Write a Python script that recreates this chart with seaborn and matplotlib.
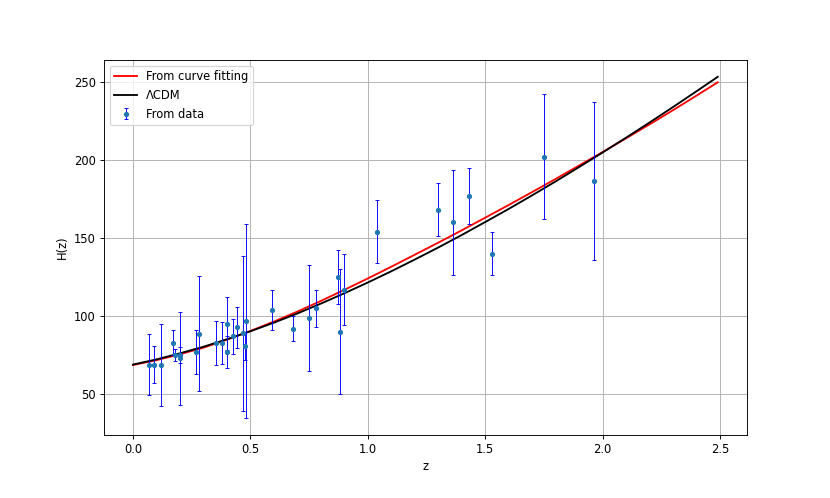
import matplotlib
matplotlib.use("Agg")
import matplotlib.pyplot as plt
import seaborn as sns
import numpy as np

# Dados observacionais H(z)
z_obs = [0.07, 0.09, 0.12, 0.17, 0.179, 0.199, 0.2, 0.27, 0.28, 0.352, 0.38, 0.4,
         0.4004, 0.425, 0.445, 0.47, 0.4783, 0.48, 0.593, 0.68, 0.75, 0.781, 0.875,
         0.88, 0.9, 1.037, 1.3, 1.363, 1.43, 1.53, 1.75, 1.965]
h_obs = [69, 69, 68.6, 83, 75, 75, 72.9, 77, 88.8, 83, 83, 95,
         77, 87.1, 92.8, 89, 80.9, 97, 104, 92, 98.8, 105, 125,
         90, 117, 154, 168, 160, 177, 140, 202, 186.5]
h_err = [19.6, 12, 26.2, 8, 4, 5, 29.6, 14, 36.6, 14, 13.5, 17,
         10.2, 11.2, 12.9, 49.6, 9, 62, 13, 8, 33.6, 12, 17,
         40, 23, 20, 17, 33.6, 18, 14, 40, 50.4]

# Curvas
z_curve = [0.0, 0.1, 0.2, 0.3, 0.4, 0.5, 0.6, 0.7, 0.8, 0.9, 1.0, 1.1, 1.2,
           1.3, 1.4, 1.5, 1.6, 1.7, 1.8, 1.9, 2.0, 2.1, 2.2, 2.3, 2.4, 2.49]
h_fit = [68.7, 71.8, 75.6, 79.8, 84.9, 90.5, 96.5, 102.9, 109.7, 116.8, 124.1,
         131.6, 139.3, 147.0, 154.9, 163.0, 171.1, 179.4, 187.8, 196.4, 205.0,
         213.8, 222.7, 231.8, 241.1, 249.6]
h_lcdm = [69.0, 72.3, 76.2, 80.4, 85.2, 90.3, 95.8, 101.7, 108.0, 114.6, 121.5,
          128.7, 136.2, 143.9, 151.9, 160.2, 168.6, 177.3, 186.2, 195.4, 204.7,
          214.2, 223.9, 233.8, 243.9, 253.1]

fig, ax = plt.subplots(figsize=(10, 6), dpi=83)
fig.subplots_adjust(left=0.125, right=0.9, top=0.88, bottom=0.127)

sns.lineplot(x=z_curve, y=h_fit, ax=ax, color="red", linewidth=1.6, label="From curve fitting")
sns.lineplot(x=z_curve, y=h_lcdm, ax=ax, color="black", linewidth=1.6, label="\u039bCDM")
ax.errorbar(z_obs, h_obs, yerr=h_err, fmt="o", ms=3.5, color="C0", ecolor="blue",
            elinewidth=0.8, capsize=2, capthick=0.8, zorder=3, label="From data")

ax.set_xlabel("z")
ax.set_ylabel("H(z)")
ax.set_xticks(np.arange(0, 2.6, 0.5))
ax.grid(True)
ax.legend(loc="upper left")

plt.savefig("out.png", dpi=83)
plt.close()
